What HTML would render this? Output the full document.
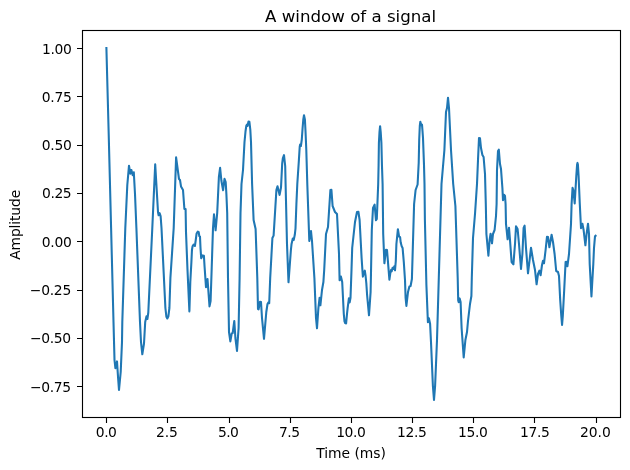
<!DOCTYPE html>
<html lang="en"><head><meta charset="utf-8"><title>A window of a signal</title>
<style>html,body{margin:0;padding:0;background:#fff;overflow:hidden}svg{display:block}text{font-family:"DejaVu Sans","Liberation Sans",sans-serif;fill:#000;white-space:pre}</style></head><body>
<svg width="630" height="470" viewBox="0 0 630 470">
<rect width="630" height="470" fill="#fff"/>
<path d="M106.5 418.0v5M167.5 418.0v5M229.5 418.0v5M290.5 418.0v5M351.5 418.0v5M412.5 418.0v5M473.5 418.0v5M534.5 418.0v5M596.5 418.0v5M82.0 48.5h-5M82.0 96.5h-5M82.0 145.5h-5M82.0 193.5h-5M82.0 241.5h-5M82.0 290.5h-5M82.0 338.5h-5M82.0 386.5h-5" stroke="#000" stroke-width="1.11" fill="none"/>
<g font-size="13.89px">
<text x="95.82" y="436.59" letter-spacing="-0.502">0.0</text>
<text x="155.89" y="436.58" letter-spacing="-0.062">2.5</text>
<text x="217.95" y="436.60" letter-spacing="-0.552">5.0</text>
<text x="279.02" y="436.61" letter-spacing="-0.539">7.5</text>
<text x="336.15" y="436.59" letter-spacing="-0.405">10.0</text>
<text x="397.02" y="436.58" letter-spacing="-0.351">12.5</text>
<text x="458.09" y="436.60" letter-spacing="-0.375">15.0</text>
<text x="520.06" y="436.61" letter-spacing="-0.375">17.5</text>
<text x="580.09" y="436.56" letter-spacing="-0.066">20.0</text>
<text x="42.10" y="53.79" letter-spacing="-0.405">1.00</text>
<text x="41.82" y="101.81" letter-spacing="-0.312">0.75</text>
<text x="41.81" y="149.81" letter-spacing="-0.301">0.50</text>
<text x="42.00" y="197.78" letter-spacing="-0.404">0.25</text>
<text x="41.83" y="246.80" letter-spacing="-0.329">0.00</text>
<text x="29.85" y="294.78" letter-spacing="-0.290">−0.25</text>
<text x="29.98" y="342.81" letter-spacing="-0.324">−0.50</text>
<text x="29.96" y="391.81" letter-spacing="-0.318">−0.75</text>
</g>
<clipPath id="c"><rect x="82.5" y="30.5" width="538.0" height="387.0"/></clipPath>
<polyline clip-path="url(#c)" points="106.40,48.00 108.70,134.00 111.10,228.00 113.50,322.00 114.50,360.00 115.40,368.20 117.00,361.40 118.10,378.00 119.00,390.00 120.70,372.00 122.00,342.00 122.30,322.00 125.30,228.00 127.30,185.00 129.00,165.70 130.30,173.60 131.40,170.00 132.70,175.20 133.80,172.20 135.00,194.00 136.40,228.00 140.00,322.00 141.00,342.00 142.30,354.30 144.00,343.50 145.20,322.00 146.50,316.30 147.40,319.00 148.30,312.50 152.30,228.00 155.20,164.30 158.00,212.00 158.60,215.30 159.60,213.10 160.60,216.00 161.50,228.00 165.40,308.00 166.40,316.80 167.30,318.50 168.40,316.20 169.40,308.00 170.40,278.00 173.70,228.00 176.10,157.30 179.00,179.00 180.00,180.00 181.00,186.40 183.00,190.00 184.40,209.00 185.60,209.00 186.00,232.00 187.50,270.00 189.40,311.40 190.30,282.00 191.40,262.00 191.95,250.00 192.55,246.30 193.50,244.70 194.90,246.00 195.70,240.30 196.60,233.50 197.80,231.60 198.70,232.20 199.30,236.20 200.00,236.70 200.50,248.00 201.20,258.20 202.70,255.40 203.90,255.70 204.60,267.00 206.00,287.20 207.50,279.00 209.50,306.40 210.60,301.00 211.70,268.00 213.00,228.00 214.00,214.30 215.60,230.30 217.20,213.00 218.90,176.80 220.10,167.90 221.40,180.80 223.10,190.20 224.50,178.90 225.70,182.20 226.40,194.20 227.20,213.00 228.00,278.00 229.00,332.00 230.35,341.40 231.70,333.50 232.70,333.00 234.30,321.00 235.40,338.00 237.00,350.90 238.60,328.00 239.60,278.00 240.50,213.00 241.50,184.00 243.00,170.00 244.50,142.00 245.50,131.50 246.30,125.80 247.00,124.60 247.50,126.00 248.50,121.60 249.40,121.80 250.30,129.50 251.00,142.00 252.10,184.00 253.60,220.00 255.60,229.00 257.30,278.00 258.00,309.00 258.60,309.30 260.00,301.70 261.00,302.00 262.00,318.00 264.00,338.80 266.30,312.00 267.50,304.00 268.40,302.40 269.20,303.20 270.20,278.00 272.40,238.00 273.60,235.60 275.00,213.00 276.40,190.00 277.50,186.20 278.40,190.00 279.60,194.90 281.00,187.50 282.20,163.40 282.90,158.00 284.00,155.10 285.20,166.00 285.60,184.00 287.00,244.00 288.50,282.30 290.00,262.00 290.90,250.00 291.50,244.30 292.80,238.60 293.70,240.00 294.80,234.80 295.50,228.50 296.40,204.00 297.30,184.00 298.90,160.00 299.70,147.00 300.10,144.60 300.90,146.00 301.80,139.50 302.60,128.00 303.30,119.50 304.00,115.20 304.90,119.50 305.50,131.00 306.30,150.00 307.30,184.00 309.30,241.00 311.00,231.00 312.00,241.00 314.40,278.00 316.00,318.00 317.00,328.30 318.40,308.00 319.60,297.70 320.40,305.30 322.00,290.00 323.40,282.00 324.20,270.00 326.00,234.00 328.00,227.00 330.40,190.00 331.40,189.70 332.60,206.00 335.00,212.00 337.00,214.00 339.00,254.00 339.60,280.30 340.90,276.60 342.20,282.00 343.80,314.00 344.50,321.30 345.20,323.10 346.10,323.40 347.00,314.00 347.60,308.40 348.90,298.30 349.70,302.40 350.50,297.80 351.50,270.00 352.20,248.00 355.00,222.00 357.00,212.00 358.40,211.70 359.60,220.00 361.60,258.00 362.40,270.00 362.90,276.60 363.80,273.00 364.80,270.60 365.60,276.00 366.30,283.00 367.10,295.00 369.00,315.30 370.60,292.00 370.90,278.00 371.80,230.00 373.00,208.00 374.60,204.70 376.00,220.30 376.80,219.00 378.20,184.00 378.60,165.00 378.90,143.00 379.50,132.00 380.10,126.20 380.70,132.00 381.40,143.00 381.95,165.00 382.60,184.00 383.20,234.00 384.40,263.30 386.00,249.70 387.00,250.00 389.40,279.60 390.40,272.50 391.10,269.90 391.70,271.30 392.60,267.70 393.50,269.00 394.30,266.40 395.00,270.30 395.80,261.00 396.40,244.00 397.90,229.20 399.10,236.60 400.10,237.20 400.70,242.50 401.70,246.30 402.60,248.00 403.80,262.00 405.00,280.00 405.60,298.00 406.40,305.90 408.00,292.00 409.40,286.40 410.60,286.00 411.90,279.00 414.10,204.00 415.60,190.00 417.60,184.50 418.70,163.00 419.20,140.00 419.80,126.00 420.35,121.70 421.20,125.30 422.00,124.60 422.50,131.00 423.00,138.00 424.00,165.00 424.50,184.00 424.90,220.00 426.40,285.00 427.90,322.30 428.90,318.20 430.10,323.80 431.00,342.00 432.90,386.00 434.00,400.00 435.10,386.00 437.00,340.00 438.80,278.00 441.50,184.00 444.40,150.00 446.00,112.00 447.00,108.00 448.00,97.70 449.00,108.00 451.00,150.00 453.20,184.00 455.40,206.00 457.70,278.00 458.20,300.50 458.70,302.20 459.60,298.40 460.60,302.00 461.60,328.00 463.70,357.40 465.40,340.00 467.00,332.00 468.00,321.00 470.00,304.00 471.40,296.00 471.80,278.00 473.00,238.00 475.00,214.00 477.00,184.00 478.00,160.00 479.00,138.00 480.00,138.30 481.00,148.00 482.40,155.00 483.60,157.00 485.00,174.00 485.80,204.00 486.40,234.00 488.40,255.70 489.60,240.00 490.60,233.70 492.00,243.30 493.00,234.00 494.60,230.00 496.00,216.00 496.60,204.00 497.00,170.00 498.00,151.00 498.80,149.70 500.00,164.00 501.00,169.00 502.40,188.00 503.00,200.30 504.00,194.70 505.00,196.00 505.60,204.00 506.00,224.00 507.60,239.30 509.00,227.70 510.00,240.00 511.60,262.00 513.40,264.30 515.00,244.00 516.00,226.30 517.60,229.00 519.00,244.00 521.00,268.90 522.40,254.00 523.60,228.00 524.60,225.70 526.00,248.00 528.00,273.30 529.60,260.00 531.00,247.70 533.00,260.00 535.00,270.00 536.60,284.30 538.00,274.00 539.40,270.70 540.60,275.30 542.00,265.00 543.00,260.70 544.00,263.30 545.60,250.00 547.00,236.70 548.00,237.00 549.40,247.30 551.60,234.70 553.00,242.00 554.60,254.00 556.20,271.00 558.00,272.00 559.00,276.00 560.20,300.00 561.30,316.00 562.05,325.00 562.80,316.00 564.20,290.00 565.60,262.00 566.40,261.70 567.40,266.30 569.00,254.00 571.00,224.00 571.60,204.00 572.55,187.80 573.30,190.00 574.70,203.50 576.30,176.00 577.10,164.50 577.50,162.90 577.90,164.50 578.60,176.00 579.80,204.00 581.00,228.30 582.40,223.70 583.60,230.00 585.40,245.30 586.60,234.00 588.00,223.70 589.00,234.00 589.70,264.00 591.45,296.40 593.30,264.00 594.00,248.00 595.00,236.30 595.60,235.80" fill="none" stroke="#1f77b4" stroke-width="2.08" stroke-linejoin="round" stroke-linecap="square"/>
<rect x="82.5" y="30.5" width="538.00" height="387.00" fill="none" stroke="#000" stroke-width="1.11" stroke-linejoin="miter"/>
<text x="265.10" y="21.72" letter-spacing="-0.012" font-size="16.67px">A window of a signal</text>
<text x="316.16" y="457.80" letter-spacing="-0.025" font-size="13.89px">Time (ms)</text>
<text transform="translate(20.38 259.84) rotate(-90)" letter-spacing="-0.134" font-size="13.89px">Amplitude</text>
</svg></body></html>
